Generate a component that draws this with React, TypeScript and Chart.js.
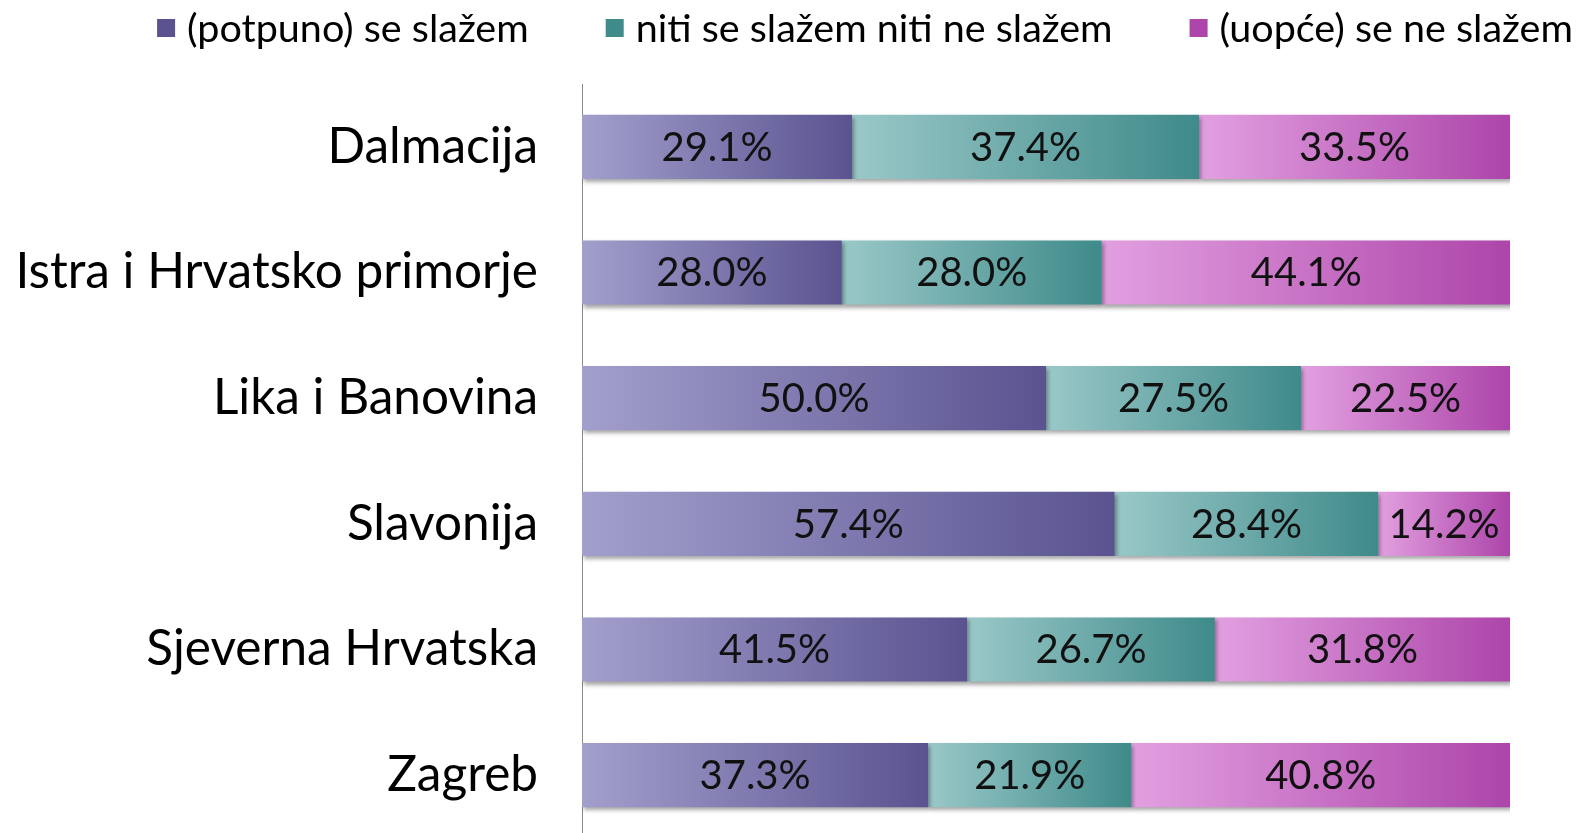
import React, { useEffect, useRef } from "react";
import { Chart, registerables } from "chart.js";

Chart.register(...registerables);

const categories = [
  "Dalmacija",
  "Istra i Hrvatsko primorje",
  "Lika i Banovina",
  "Slavonija",
  "Sjeverna Hrvatska",
  "Zagreb",
];
const agree = [29.1, 28.0, 50.0, 57.4, 41.5, 37.3];
const neutral = [37.4, 28.0, 27.5, 28.4, 26.7, 21.9];
const disagree = [33.5, 44.1, 22.5, 14.2, 31.8, 40.8];
const seriesLabels = [
  "(potpuno) se slažem",
  "niti se slažem niti ne slažem",
  "(uopće) se ne slažem",
];
const gradStops = [
  ["#a29fcc", "#5a5390"],
  ["#9ac8c8", "#3f8a8a"],
  ["#e2a0e0", "#ad45aa"],
];

const FONT = "Lato, 'DejaVu Sans', sans-serif";

export default function App() {
  const ref = useRef<HTMLCanvasElement>(null);
  useEffect(() => {
    document.body.style.margin = "0";
    document.body.style.overflow = "hidden";
    document.documentElement.style.overflow = "hidden";
    const series = [agree, neutral, disagree];
    const bg = (dsIndex: number) => (ctx: any) => {
      const chart = ctx.chart;
      const xs = chart.scales && chart.scales.x;
      if (!xs || ctx.dataIndex === undefined) return gradStops[dsIndex][1];
      let start = 0;
      for (let k = 0; k < dsIndex; k++) start += series[k][ctx.dataIndex];
      const end = start + series[dsIndex][ctx.dataIndex];
      const x0 = xs.getPixelForValue(start);
      const x1 = xs.getPixelForValue(end);
      if (!isFinite(x0) || !isFinite(x1) || x1 <= x0) return gradStops[dsIndex][1];
      const g = chart.ctx.createLinearGradient(x0, 0, x1, 0);
      g.addColorStop(0, gradStops[dsIndex][0]);
      g.addColorStop(1, gradStops[dsIndex][1]);
      return g;
    };
    const shadowPlugin = {
      id: "shadow",
      beforeDatasetsDraw(chart: any) {
        const c = chart.ctx;
        c.save();
        c.shadowColor = "rgba(0,0,0,0.35)";
        c.shadowBlur = 4;
        c.shadowOffsetX = 2;
        c.shadowOffsetY = 3;
      },
      afterDatasetsDraw(chart: any) {
        chart.ctx.restore();
      },
    };
    const labelPlugin = {
      id: "valueLabels",
      afterDatasetsDraw(chart: any) {
        const c = chart.ctx;
        c.save();
        c.font = `40px ${FONT}`;
        c.fillStyle = "#111";
        c.textAlign = "center";
        c.textBaseline = "middle";
        chart.data.datasets.forEach((ds: any, i: number) => {
          const meta = chart.getDatasetMeta(i);
          meta.data.forEach((bar: any, j: number) => {
            const x = (bar.x + bar.base) / 2;
            c.fillText(ds.data[j].toFixed(1) + "%", x, bar.y + 1);
          });
        });
        c.restore();
      },
    };
    const legendPlugin = {
      id: "customLegend",
      afterDraw(chart: any) {
        const c = chart.ctx;
        c.save();
        c.font = `39.5px ${FONT}`;
        c.textBaseline = "middle";
        c.textAlign = "left";
        const box = 18;
        const gap = 12;
        const itemGap = 77;
        const widths = seriesLabels.map((t) => c.measureText(t).width);
        const total =
          widths.reduce((a, w) => a + box + gap + w, 0) +
          itemGap * (seriesLabels.length - 1);
        let x = 865 - total / 2;
        const y = 28;
        seriesLabels.forEach((t, i) => {
          c.fillStyle = gradStops[i][1];
          c.fillRect(x, y - box / 2, box, box);
          c.fillStyle = "#000";
          c.fillText(t, x + box + gap, y + 1);
          x += box + gap + widths[i] + itemGap;
        });
        c.restore();
      },
    };
    const chart = new Chart(ref.current!, {
      type: "bar",
      data: {
        labels: categories,
        datasets: series.map((d, i) => ({
          label: seriesLabels[i],
          data: d,
          backgroundColor: bg(i),
          borderWidth: 0,
          categoryPercentage: 0.51,
          barPercentage: 1,
        })),
      },
      options: {
        indexAxis: "y",
        animation: false,
        responsive: false,
        layout: { padding: { left: 14, right: 75, top: 84, bottom: 0 } },
        scales: {
          x: { stacked: true, min: 0, max: 100, display: false },
          y: {
            stacked: true,
            grid: { display: false, drawTicks: false },
            border: { display: true, color: "#8a8a8a", width: 1 },
            ticks: {
              color: "#000",
              font: { family: FONT, size: 49.5 },
              padding: 44,
            },
            afterFit(scale: any) {
              scale.width = 568;
              scale.paddingTop = 0;
              scale.paddingBottom = 0;
            },
          },
        },
        plugins: {
          tooltip: { enabled: false },
          legend: { display: false },
        },
      },
      plugins: [shadowPlugin, labelPlugin, legendPlugin],
    });
    return () => chart.destroy();
  }, []);
  return (
    <div style={{ width: 1585, height: 833, overflow: "hidden" }}>
      <canvas ref={ref} width={1585} height={838} />
    </div>
  );
}
